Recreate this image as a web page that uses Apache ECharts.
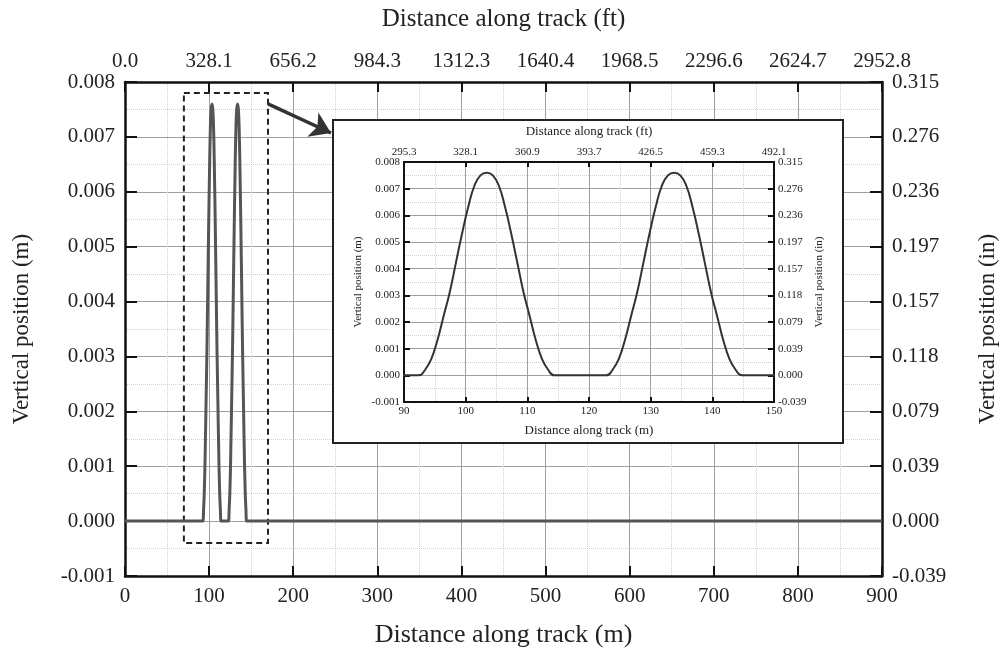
<!DOCTYPE html>
<html>
<head>
<meta charset="utf-8">
<script src="https://cdn.jsdelivr.net/npm/echarts@6/dist/echarts.min.js"></script>
<style>
  html, body { margin: 0; padding: 0; background: #fff; }
  #chart { width: 1007px; height: 653px; }
</style>
</head>
<body>
<div id="chart"></div>
<script>
// track profile (distance m, vertical position m)
var trackX = [0, 90, 92.4, 93.4, 94.4, 95.4, 96.4, 97.4, 98.4, 99.4, 100.4, 101.4, 102.4, 103.4,
  104.4, 105.4, 106.4, 107.4, 108.4, 109.4, 110.4, 111.4, 112.4, 113.4, 114.4,
  122.8, 123.8, 124.8, 125.8, 126.8, 127.8, 128.8, 129.8, 130.8, 131.8, 132.8, 133.8,
  134.8, 135.8, 136.8, 137.8, 138.8, 139.8, 140.8, 141.8, 142.8, 143.8, 144.8, 150, 900];
var trackY = [0, 0, 0, 0.0002, 0.0006, 0.0013, 0.0022, 0.0031, 0.0042, 0.0053, 0.0063, 0.0071, 0.0075, 0.0076,
  0.0075, 0.0071, 0.0063, 0.0053, 0.0042, 0.0031, 0.0022, 0.0013, 0.0006, 0.0002, 0,
  0, 0.0002, 0.0006, 0.0013, 0.0022, 0.0031, 0.0042, 0.0053, 0.0063, 0.0071, 0.0075, 0.0076,
  0.0075, 0.0071, 0.0063, 0.0053, 0.0042, 0.0031, 0.0022, 0.0013, 0.0006, 0.0002, 0, 0, 0];

// tick labels of the secondary (imperial) axes
var ftLabels = ['0.0', '328.1', '656.2', '984.3', '1312.3', '1640.4', '1968.5', '2296.6', '2624.7', '2952.8'];
var ftInsetLabels = ['295.3', '328.1', '360.9', '393.7', '426.5', '459.3', '492.1'];
var inLabels = ['-0.039', '0.000', '0.039', '0.079', '0.118', '0.157', '0.197', '0.236', '0.276', '0.315'];

// zoom window drawn on the main chart
var zoomBox = [[70, 0.0078], [170, -0.0004]];
var arrowFrom = [170, 0.0076];

var trackData = trackX.map(function (x, i) { return [x, trackY[i]]; });

var font = 'Liberation Serif';
var chart = echarts.init(document.getElementById('chart'));

function xAx(grid, pos, min, max, step, fmt, size, name, nameSize, nameGap, z, split, tickLen) {
  return {
    type: 'value', gridIndex: grid, position: pos, min: min, max: max, interval: step, z: z,
    name: name, nameLocation: 'middle', nameGap: nameGap,
    nameTextStyle: { fontFamily: font, fontSize: nameSize, color: '#222' },
    axisLine: { show: true, onZero: false, lineStyle: { color: '#111', width: grid ? 2 : 2.5 } },
    axisTick: { show: true, inside: true, length: tickLen, lineStyle: { color: '#111', width: 2 } },
    axisLabel: { fontFamily: font, fontSize: size, color: '#222', margin: grid ? 4 : 10, formatter: fmt },
    splitLine: { show: split, lineStyle: { color: '#a0a0a0', width: 1 } },
    minorTick: { show: false, splitNumber: 2 },
    minorSplitLine: { show: split, lineStyle: { color: '#d0d0d0', width: 1, type: 'dotted' } }
  };
}

var mFmt = function (v) { return v.toFixed(3); };
var inFmt = function (v) { return inLabels[Math.round(v * 1000) + 1]; };

var option = {
  animation: false,
  backgroundColor: '#fff',
  grid: [
    { left: 125, top: 82, width: 763, height: 498 },
    { left: 404, top: 162, width: 370, height: 240 }
  ],
  xAxis: [
    xAx(0, 'bottom', 0, 900, 100, function (v) { return v; }, 21, 'Distance along track (m)', 26, 46, 0, true, 10),
    xAx(0, 'top', 0, 900, 100, function (v) { return ftLabels[Math.round(v / 100)]; }, 21, 'Distance along track (ft)', 25, 50, 0, false, 10),
    xAx(1, 'bottom', 90, 150, 10, function (v) { return v; }, 11, 'Distance along track (m)', 13, 22, 6, true, 5),
    xAx(1, 'top', 90, 150, 10, function (v) { return ftInsetLabels[Math.round((v - 90) / 10)]; }, 11, 'Distance along track (ft)', 13, 24, 6, false, 5)
  ],
  yAxis: [
    xAx(0, 'left', -0.001, 0.008, 0.001, mFmt, 21, 'Vertical position (m)', 23, 92, 0, true, 12),
    xAx(0, 'right', -0.001, 0.008, 0.001, inFmt, 21, 'Vertical position (in)', 23, 94, 0, false, 12),
    xAx(1, 'left', -0.001, 0.008, 0.001, mFmt, 11, 'Vertical position (m)', 11, 40, 6, true, 6),
    xAx(1, 'right', -0.001, 0.008, 0.001, inFmt, 11, 'Vertical position (in)', 11, 40, 6, false, 6)
  ],
  graphic: [
    {
      type: 'rect', z: 5,
      shape: { x: 333, y: 120, width: 510, height: 323 },
      style: { fill: '#fff', stroke: '#222', lineWidth: 2 }
    }
  ],
  series: [
    {
      type: 'line', xAxisIndex: 0, yAxisIndex: 0, data: trackData,
      showSymbol: false, smooth: 0.5, z: 3,
      lineStyle: { color: '#555', width: 3 },
      markArea: {
        silent: true,
        itemStyle: { color: 'rgba(0,0,0,0)', borderColor: '#222', borderWidth: 2, borderType: [6, 4] },
        data: [[{ coord: zoomBox[0] }, { coord: zoomBox[1] }]]
      },
      markLine: {
        silent: true, symbol: ['none', 'arrow'], symbolSize: 20, z: 6,
        label: { show: false },
        lineStyle: { color: '#333', width: 3.5, type: 'solid' },
        data: [[{ coord: arrowFrom }, { x: 331, y: 133 }]]
      }
    },
    {
      type: 'line', xAxisIndex: 2, yAxisIndex: 2, data: trackData,
      showSymbol: false, smooth: 0.5, z: 8,
      lineStyle: { color: '#333', width: 2 }
    }
  ]
};

chart.setOption(option);
</script>
</body>
</html>
